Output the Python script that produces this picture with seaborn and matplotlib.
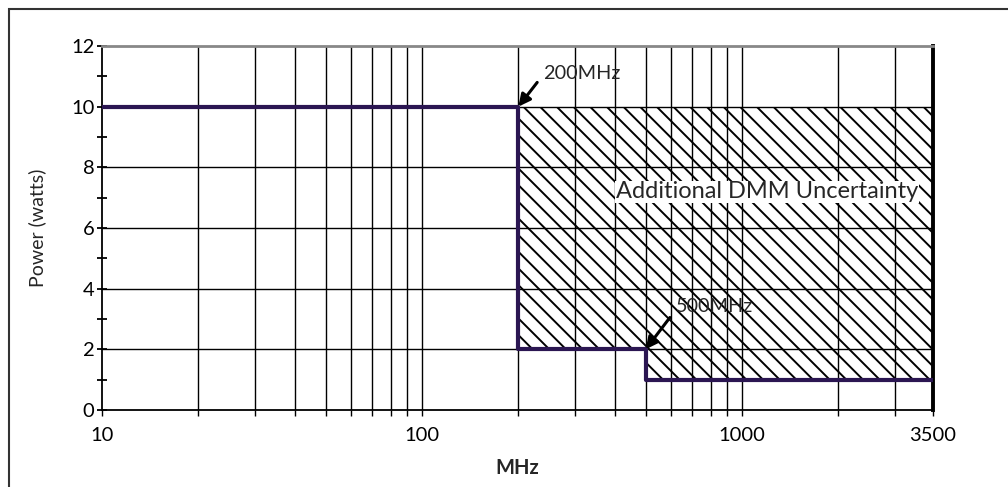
import numpy as np
import pandas as pd
import matplotlib
matplotlib.use("Agg")
import matplotlib.pyplot as plt
import seaborn as sns
from matplotlib.patches import Rectangle

# data
freq_mhz = [10, 200, 500, 3500]
power_w = [10, 2, 1, 1]
hatch_freq = [200, 500, 3500]
hatch_lower = [2, 1, 1]
hatch_upper = 10
x_tick_labels = ["10", "100", "1000", "3500"]
y_tick_values = [0, 2, 4, 6, 8, 10, 12]
x_grid_values = [20, 30, 40, 50, 60, 70, 80, 90, 100, 200, 300, 400, 500, 600, 700, 800, 900,
                 1000, 2000, 3000]

# the reference's right edge (labelled 3500) sits where ~3950 would be on its log axis
x_axis_max = 3950
x_tick_values = [10, 100, 1000, x_axis_max]

sns.set_theme(style="white")
plt.rcParams['font.family'] = ['Lato', 'DejaVu Sans']
plt.rcParams['hatch.linewidth'] = 1.4
plt.rcParams['hatch.color'] = 'black'

fig = plt.figure(figsize=(10.08, 4.87), dpi=100)
ax = fig.add_axes([102/1008, 1 - 410/487, 831/1008, 364/487])

# outer frame
fig.patches.append(Rectangle((9/1008, -0.1), 1.2, 1 - 9/487 + 0.1, transform=fig.transFigure,
                             fill=False, edgecolor='#333333', linewidth=1.5, zorder=0))

line_x = freq_mhz[:-1] + [x_axis_max]
hatch_x = hatch_freq[:-1] + [x_axis_max]
df = pd.DataFrame({"MHz": line_x, "Power": power_w})

ax.fill_between(hatch_x, hatch_lower, hatch_upper, step='post', facecolor='white',
                edgecolor='black', hatch='\\\\', linewidth=0, zorder=1)

# grid lines
for v in x_grid_values:
    ax.axvline(v, color='black', linewidth=1.0, zorder=2)
for v in y_tick_values[1:-1]:
    ax.axhline(v, color='black', linewidth=1.0, zorder=2)

sns.lineplot(data=df, x="MHz", y="Power", drawstyle='steps-post', estimator=None, sort=False,
             color='#2B1652', linewidth=3.0, ax=ax, zorder=4)

ax.set_xscale('log')
ax.set_xlim(10, x_axis_max)
ax.set_ylim(0, 12)
ax.set_xticks(x_tick_values)
ax.set_xticklabels(x_tick_labels)
ax.set_xticks(x_grid_values, minor=True)
ax.set_xticklabels([], minor=True)
ax.set_yticks(y_tick_values)
ax.set_yticks([1, 3, 5, 7, 9, 11], minor=True)
ax.tick_params(axis='y', which='both', left=True, direction='inout', length=7, width=1.3,
               labelsize=14.5, colors='black', pad=2)
ax.tick_params(axis='x', which='both', bottom=True, direction='out', length=4, width=1.0,
               labelsize=14.5, colors='black', pad=8)

for s in ['left', 'bottom']:
    ax.spines[s].set_color('black')
    ax.spines[s].set_linewidth(1.3)
ax.spines['right'].set_color('black')
ax.spines['right'].set_linewidth(2.8)
ax.spines['top'].set_color('#888888')
ax.spines['top'].set_linewidth(2.0)

ax.set_xlabel("MHz", fontsize=14.5, fontweight='bold', labelpad=10)
ax.set_ylabel("Power (watts)", fontsize=14, labelpad=18)

ax.text(239, 11.1, "200MHz", fontsize=14.3, ha='left', va='center', zorder=6)
ax.annotate("", xy=(200, 10), xytext=(229, 10.8),
            arrowprops=dict(arrowstyle='-|>', color='black', lw=2.2, mutation_scale=18,
                            shrinkA=0, shrinkB=0), zorder=6)
ax.text(622, 3.4, "500MHz", fontsize=14.3, ha='left', va='center', zorder=6)
ax.annotate("", xy=(500, 2), xytext=(595, 3.05),
            arrowprops=dict(arrowstyle='-|>', color='black', lw=2.2, mutation_scale=18,
                            shrinkA=0, shrinkB=0), zorder=6)
ax.text(1197, 7.19, "Additional DMM Uncertainty", fontsize=17, ha='center', va='center', zorder=6,
        bbox=dict(facecolor='white', edgecolor='none', pad=0.5))

fig.savefig("out.png", dpi=100)
